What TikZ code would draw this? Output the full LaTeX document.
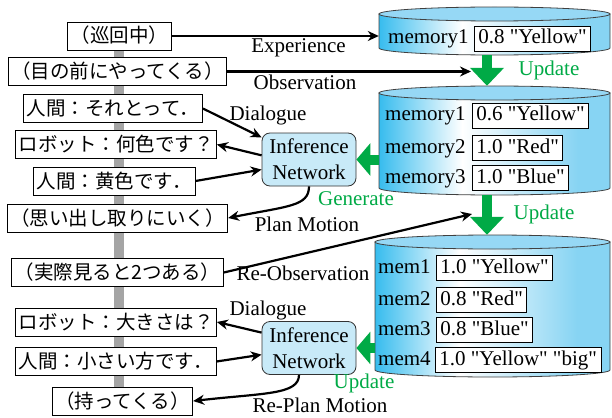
\documentclass[tikz,border=0pt]{standalone}
\usepackage{fontspec}
\setmainfont{Liberation Serif}
\newfontfamily\jp{Noto Sans CJK JP}
\usetikzlibrary{arrows.meta,calc}
\definecolor{gr}{RGB}{0,170,70}
\definecolor{cylL}{RGB}{55,188,238}
\definecolor{cylR}{RGB}{135,212,243}
\definecolor{cyltop}{RGB}{150,216,245}
\definecolor{netblue}{RGB}{200,234,248}
\definecolor{barc}{RGB}{165,165,165}
\pgfdeclarehorizontalshading{cylsh}{100bp}{color(0bp)=(cylL); color(25bp)=(cylL); color(43bp)=(white); color(68bp)=(cylR); color(100bp)=(cylR)}
\newcommand\en{\fontsize{21}{26}\selectfont}
\newcommand\jpf{\jp\fontsize{19.5}{23}\selectfont}
\newcommand\dq{\XeTeXglyph\XeTeXcharglyph"22\relax}
\newcommand\drawcyl[5]{%
  \shadedraw[shading=cylsh, draw=black!75, line width=0.8pt] (#1,#3) -- (#1,#4) arc[start angle=180, end angle=0, x radius={(#2-#1)/2}, y radius=#5] -- (#2,#3) -- cycle;
  \filldraw[fill=cyltop, draw=black!75, line width=0.8pt] ({(#1+#2)/2},#3) ellipse[x radius={(#2-#1)/2}, y radius=#5];
}
\tikzset{
  jbox/.style={draw, line width=0.8pt, fill=white, font=\jpf, inner xsep=3pt, inner ysep=4pt, text height=17pt, text depth=3pt},
  val/.style={draw, line width=0.8pt, fill=white, font=\en, inner xsep=4pt, inner ysep=2pt, text height=16pt, text depth=5pt, anchor=west},
  lab/.style={font=\en, inner sep=0pt, text height=16pt, text depth=5pt, anchor=west},
  txt/.style={font=\en, inner sep=0pt},
  gtxt/.style={font=\en, inner sep=0pt, text=gr},
  ghost/.style={draw=none, inner sep=0pt},
  net/.style={draw=black!80, fill=netblue, rounded corners=8pt, line width=0.8pt, minimum width=94pt, minimum height=53pt, align=center, font=\en, inner sep=0pt},
  conn/.style={line width=2.2pt, -{Stealth[length=11pt, width=10pt]}},
  garrowh/.style={draw=gr, line width=10pt, -{Triangle[length=14pt, width=32pt]}, gr},
  garrowv/.style={draw=gr, line width=10pt, -{Triangle[length=18pt, width=33pt]}, gr}
}
\begin{document}
\begin{tikzpicture}[x=1pt,y=-1pt]
\useasboundingbox (0,0) rectangle (612,417);
% timeline bar
\fill[barc] (114,50) rectangle (124,410);
% cylinders
\drawcyl{379}{610}{14}{48}{7}
\drawcyl{379}{610}{93}{188}{7}
\drawcyl{375}{610}{242}{370}{7}
\node[ghost, minimum width=231pt, minimum height=48pt] (cyl1) at (494.5,31) {};
\node[ghost, minimum width=231pt, minimum height=109pt] (cyl2) at (494.5,140.5) {};
\node[ghost, minimum width=235pt, minimum height=142pt] (cyl3) at (492.5,306) {};
% memory contents
\node[lab] (m11) at (388,38.5) {memory1};
\node[val] (v11) at (474,38.5) {0.8 \dq Yellow\dq};
\node[lab] (m21) at (385,115.5) {memory1};
\node[val] (v21) at (472,115.5) {0.6 \dq Yellow\dq};
\node[lab] (m22) at (385,147.5) {memory2};
\node[val] (v22) at (472,147.5) {1.0 \dq Red\dq};
\node[lab] (m23) at (385,177.5) {memory3};
\node[val] (v23) at (472,177.5) {1.0 \dq Blue\dq};
\node[lab] (m31) at (378,267.5) {mem1};
\node[val] (v31) at (436,267.5) {1.0 \dq Yellow\dq};
\node[lab] (m32) at (378,299.5) {mem2};
\node[val] (v32) at (436,299.5) {0.8 \dq Red\dq};
\node[lab] (m33) at (378,329.5) {mem3};
\node[val] (v33) at (436,329.5) {0.8 \dq Blue\dq};
\node[lab] (m34) at (378,360) {mem4};
\node[val] (v34) at (435,360) {1.0 \dq Yellow\dq{} \dq big\dq};
% left boxes
\node[jbox] (b1) at (119.5,36) {（巡回中）};
\node[jbox] (b2) at (117.5,71.5) {（目の前にやってくる）};
\node[jbox] (b3) at (113,108.5) {人間：それとって．};
\node[jbox] (b4) at (116,144.5) {ロボット：何色です？};
\node[jbox] (b5) at (114.5,181) {人間：黄色です．};
\node[jbox] (b6) at (117.5,218) {（思い出し取りにいく）};
\node[jbox] (b7) at (117.5,272.5) {（実際見ると2つある）};
\node[jbox] (b8) at (116,322) {ロボット：大きさは？};
\node[jbox] (b9) at (116,361.5) {人間：小さい方です．};
\node[jbox] (b10) at (122.5,401) {（持ってくる）};
% networks
\node[net] (net1) at (309,159.5) {Inference\\Network};
\node[net] (net2) at (309,348) {Inference\\Network};
% free ends
\coordinate (obs1) at (471,71);
\coordinate (obs2) at (472,214);
\coordinate (u) at (487,0);
% black connectors
\draw[conn] (b1.east) -- (b1.east -| cyl1.west);
\draw[conn] (b2.east) -- (b2.east -| obs1);
\draw[conn] (b3.east) -- (net1.155);
\draw[conn] (net1.175) -- (b4.east);
\draw[conn] (b5.east) -- (net1.192);
\draw[conn] (net1.south) .. controls +(0,20) and +(60,-12) .. (b6.east);
\draw[conn] (b7.east) -- (obs2);
\draw[conn] (net2.162) -- (b8.east);
\draw[conn] (b9.east) -- (net2.188);
\draw[conn] ($(net2.south)+(-10,0)$) .. controls +(0,20) and +(70,-8) .. (b10.east);
% green arrows
\draw[garrowh] (cyl2.west |- net1.east) -- (net1.east);
\draw[garrowh] (cyl3.west |- net2.east) -- (net2.east);
\draw[garrowv] (cyl1.south -| u) -- (cyl2.north -| u);
\draw[garrowv] (cyl2.south -| u) -- (cyl3.north -| u);
% labels
\node[txt] (lexp) at (298.5,48) {Experience};
\node[txt] (lobs) at (305,82) {Observation};
\node[txt] (ldia1) at (268,115) {Dialogue};
\node[gtxt] (lgen) at (356,199) {Generate};
\node[txt] (lplan) at (307,224) {Plan Motion};
\node[gtxt] (lupd1) at (549,70) {Update};
\node[gtxt] (lupd2) at (544,214) {Update};
\node[txt] (lreobs) at (303,273) {Re-Observation};
\node[txt] (ldia2) at (268,310) {Dialogue};
\node[gtxt] (lupd3) at (364,383) {Update};
\node[txt] (lreplan) at (320,405) {Re-Plan Motion};
\end{tikzpicture}
\end{document}
